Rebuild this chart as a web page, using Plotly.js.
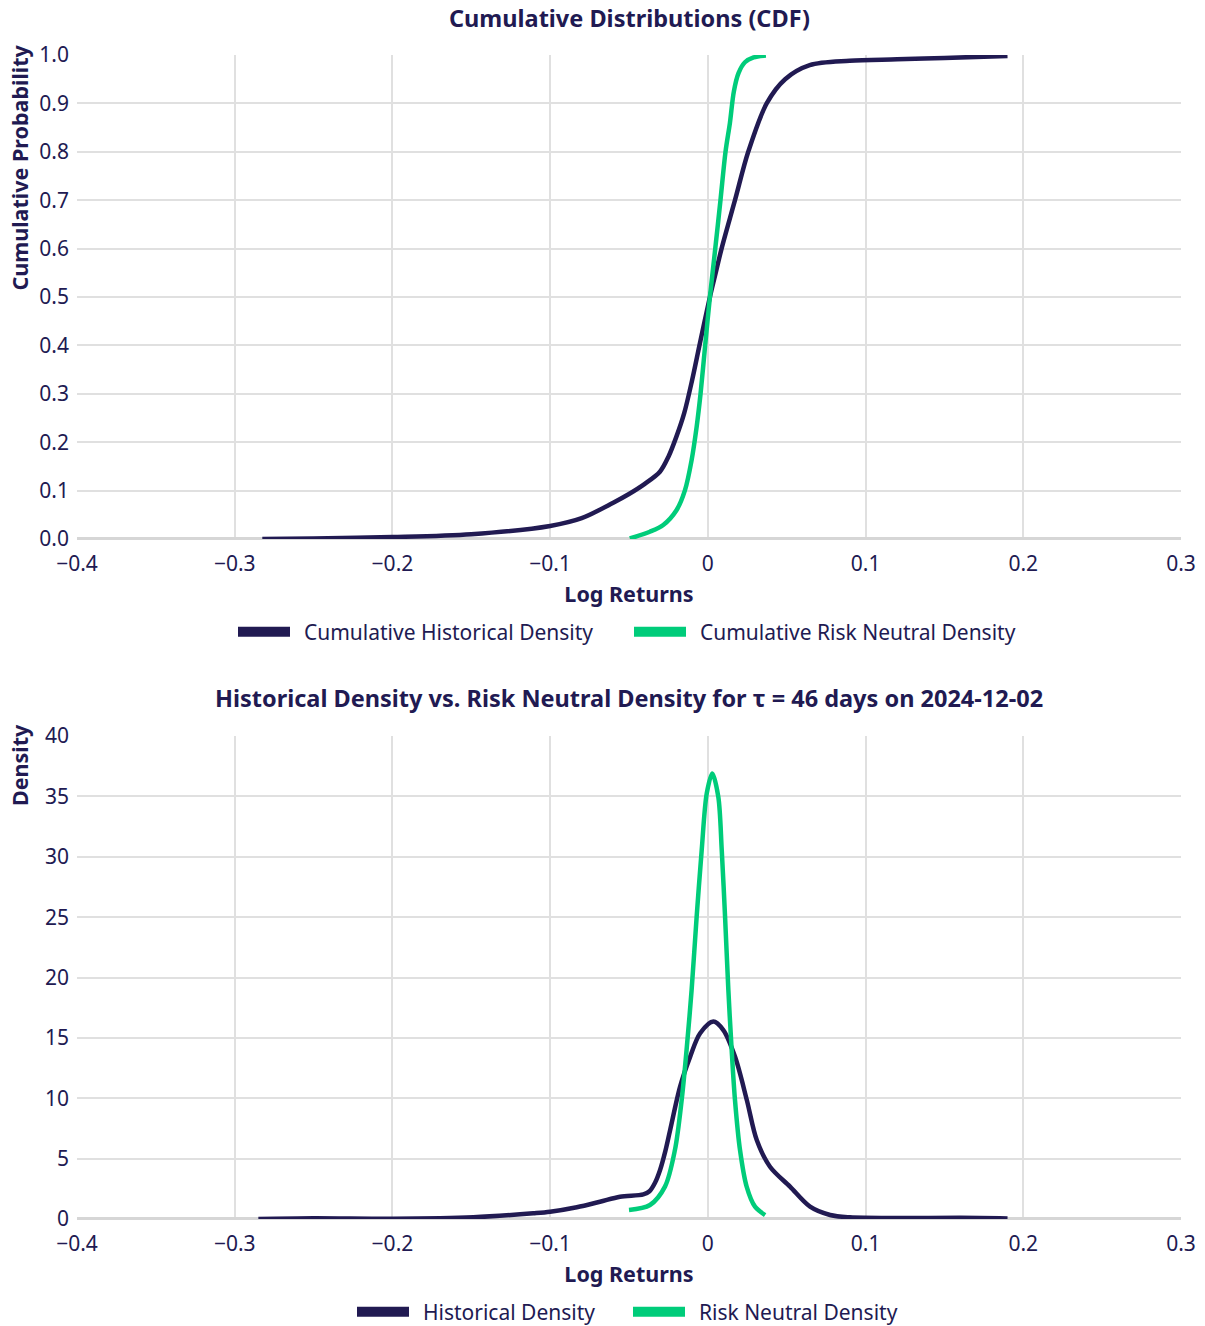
<!DOCTYPE html>
<html>
<head>
<meta charset="utf-8">
<script src="https://cdn.plot.ly/plotly-3.0.1.min.js"></script>
<style>html,body{margin:0;padding:0;background:#fff;}</style>
</head>
<body>
<div id="chart" style="width:1205px;height:1326px;"></div>
<script>
// ---- Data ----
const histCdfX = [-0.2825, -0.25, -0.2, -0.15, -0.1, -0.08, -0.06, -0.05, -0.04, -0.0304, -0.025, -0.02, -0.015, -0.01, -0.005, 0.0013, 0.005, 0.0087, 0.0172, 0.0256, 0.0373, 0.049, 0.0646, 0.0899, 0.12, 0.15, 0.19];
const histCdfY = [0.0, 0.001, 0.004, 0.01, 0.027, 0.043, 0.075, 0.093, 0.114, 0.139, 0.17, 0.211, 0.26, 0.328, 0.405, 0.5, 0.55, 0.6, 0.7, 0.8, 0.9, 0.95, 0.979, 0.988, 0.991, 0.994, 0.998];

const rnCdfX = [-0.0495, -0.0368, -0.0283, -0.0198, -0.0145, -0.0103, -0.0071, -0.0046, -0.0018, 0.0013, 0.0047, 0.008, 0.0112, 0.014, 0.0165, 0.0195, 0.0235, 0.029, 0.0368];
const rnCdfY = [0.001, 0.015, 0.029, 0.06, 0.101, 0.163, 0.232, 0.301, 0.397, 0.5, 0.6, 0.7, 0.8, 0.86, 0.925, 0.963, 0.985, 0.995, 0.999];

const histPdfX = [-0.285, -0.25, -0.1994, -0.1487, -0.1107, -0.1, -0.0831, -0.0684, -0.0557, -0.0409, -0.037, -0.0335, -0.0303, -0.027, -0.0239, -0.0176, -0.0112, -0.0049, 0.0035, 0.0098, 0.0172, 0.0247, 0.031, 0.0394, 0.0521, 0.0648, 0.0775, 0.0901, 0.12, 0.16, 0.19];
const histPdfY = [0.0, 0.06, 0.02, 0.14, 0.47, 0.6, 0.97, 1.43, 1.85, 2.04, 2.3, 3.0, 4.06, 5.6, 7.37, 10.96, 13.45, 15.38, 16.35, 15.65, 13.45, 9.86, 6.54, 4.33, 2.68, 1.02, 0.33, 0.14, 0.08, 0.1, 0.05];

const rnPdfX = [-0.05, -0.0367, -0.0272, -0.0209, -0.0166, -0.0135, -0.0103, -0.0071, -0.0039, -0.0007, 0.0028, 0.0066, 0.0088, 0.0109, 0.013, 0.0151, 0.0172, 0.0204, 0.0246, 0.0299, 0.0363];
const rnPdfY = [0.75, 1.16, 2.68, 5.7, 9.86, 14.0, 18.97, 25.04, 30.56, 35.25, 36.9, 34.98, 30.56, 25.04, 18.97, 14.0, 9.86, 5.7, 2.68, 1.02, 0.33];

const xTickVals = [-0.4, -0.3, -0.2, -0.1, 0, 0.1, 0.2, 0.3];

const NAVY = '#211a52';
const GREEN = '#00cc7a';
const GRID = '#e0e0e0';
const FONT = 'Noto Sans, Open Sans, sans-serif';
const PAD = '\u00a0\u2009';

function dataTrace(x, y, name, color, xa, ya) {
  return {x: x, y: y, type: 'scatter', mode: 'lines', name: name, showlegend: false,
    line: {color: color, width: 4.5, shape: 'spline', smoothing: 0.9}, xaxis: xa, yaxis: ya};
}
function legendTrace(name, color, xa, ya, leg) {
  return {x: [null], y: [null], type: 'scatter', mode: 'lines', name: PAD + name, showlegend: true,
    line: {color: color, width: 15}, xaxis: xa, yaxis: ya, legend: leg, hoverinfo: 'skip'};
}

const traces = [
  dataTrace(histCdfX, histCdfY, 'Cumulative Historical Density', NAVY, 'x', 'y'),
  dataTrace(rnCdfX, rnCdfY, 'Cumulative Risk Neutral Density', GREEN, 'x', 'y'),
  dataTrace(histPdfX, histPdfY, 'Historical Density', NAVY, 'x2', 'y2'),
  dataTrace(rnPdfX, rnPdfY, 'Risk Neutral Density', GREEN, 'x2', 'y2'),
  legendTrace('Cumulative Historical Density', NAVY, 'x', 'y', 'legend'),
  legendTrace('Cumulative Risk Neutral Density', GREEN, 'x', 'y', 'legend'),
  legendTrace('Historical Density', NAVY, 'x2', 'y2', 'legend2'),
  legendTrace('Risk Neutral Density', GREEN, 'x2', 'y2', 'legend2')
];

const TICK_FONT = {size: 21, color: NAVY, family: FONT};
const AX_TITLE_FONT = {size: 21.5, color: NAVY, family: FONT};

const xAxisBase = {
  range: [-0.4, 0.3], tickvals: xTickVals, showgrid: true, gridcolor: GRID, gridwidth: 2,
  zeroline: false, showline: false, ticks: '', tickfont: TICK_FONT, ticklabelstandoff: 10,
  automargin: false,
  title: {text: '<b>Log Returns</b>', font: AX_TITLE_FONT, standoff: 10}
};
const yAxisBase = {
  showgrid: true, gridcolor: GRID, gridwidth: 2, zeroline: true, zerolinecolor: '#d6d6d6', zerolinewidth: 3,
  ticks: '', tickfont: TICK_FONT, ticklabelstandoff: 7, automargin: false
};

const layout = {
  width: 1205, height: 1326,
  margin: {l: 77, r: 24, t: 55, b: 107, autoexpand: false},
  paper_bgcolor: '#ffffff', plot_bgcolor: '#ffffff',
  font: {family: FONT, color: NAVY, size: 21},
  xaxis: Object.assign({}, xAxisBase, {anchor: 'y'}),
  yaxis: Object.assign({}, yAxisBase, {domain: [0.5842, 1], range: [0, 1], dtick: 0.1, tickformat: '.1f', anchor: 'x'}),
  xaxis2: Object.assign({}, xAxisBase, {anchor: 'y2'}),
  yaxis2: Object.assign({}, yAxisBase, {domain: [0, 0.4149], range: [0, 40], dtick: 5, anchor: 'x2'}),
  showlegend: true,
  legend: {orientation: 'h', xref: 'container', yref: 'container', x: 233 / 1205, xanchor: 'left',
    y: 1 - 632 / 1326, yanchor: 'middle', itemwidth: 52, entrywidth: 329,
    font: {size: 21, color: NAVY, family: FONT}, bgcolor: 'rgba(0,0,0,0)'},
  legend2: {orientation: 'h', xref: 'container', yref: 'container', x: 352 / 1205, xanchor: 'left',
    y: 1 - 1312 / 1326, yanchor: 'middle', itemwidth: 52, entrywidth: 209,
    font: {size: 21, color: NAVY, family: FONT}, bgcolor: 'rgba(0,0,0,0)'},
  annotations: [
    {text: '<b>Cumulative Distributions (CDF)</b>', xref: 'paper', yref: 'paper', x: 0.5, y: (1219 - 18) / 1164,
     xanchor: 'center', yanchor: 'middle', showarrow: false, font: {size: 23.5, color: NAVY, family: FONT}},
    {text: '<b>Historical Density vs. Risk Neutral Density for τ = 46 days on 2024-12-02</b>', xref: 'paper', yref: 'paper',
     x: 0.5, y: (1219 - 698) / 1164, xanchor: 'center', yanchor: 'middle', showarrow: false,
     font: {size: 23.5, color: NAVY, family: FONT}},
    {text: '<b>Cumulative Probability</b>', xref: 'paper', yref: 'paper', x: (19 - 77) / 1104, y: (1219 - 167.5) / 1164,
     xanchor: 'center', yanchor: 'middle', textangle: -90, showarrow: false, font: AX_TITLE_FONT},
    {text: '<b>Density</b>', xref: 'paper', yref: 'paper', x: (19 - 77) / 1104, y: (1219 - 765) / 1164,
     xanchor: 'center', yanchor: 'middle', textangle: -90, showarrow: false, font: AX_TITLE_FONT}
  ]
};

Plotly.newPlot('chart', traces, layout, {displayModeBar: false, staticPlot: true});
</script>
</body>
</html>
